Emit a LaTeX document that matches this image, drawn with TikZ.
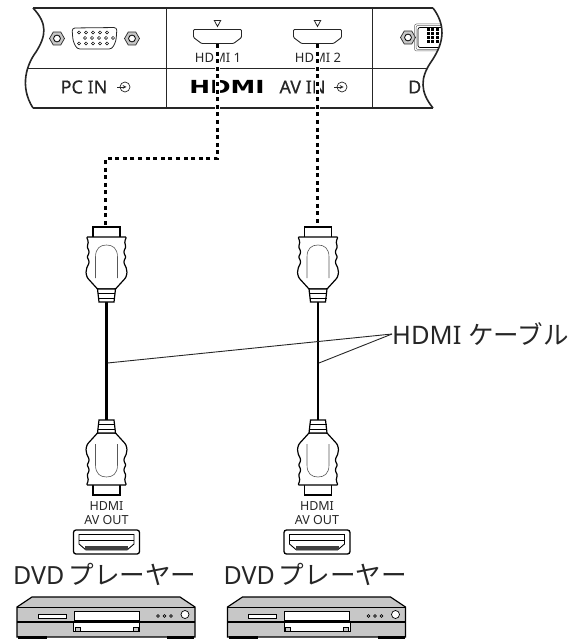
\documentclass[tikz,border=0pt]{standalone}
\usepackage{fontspec}
\setmainfont{Noto Sans}
\newfontfamily\cjk{Noto Sans CJK JP}
\newfontfamily\logofont{DejaVu Sans}
\newfontfamily\panelfont[FakeBold=0.5]{Noto Sans}
\usetikzlibrary{calc,shapes.geometric}

\newcommand{\fsize}[1]{\fontsize{#1}{#1}\selectfont}

\definecolor{playergray}{gray}{0.78}
\definecolor{linkgray}{gray}{0.15}

\tikzset{
    panelline/.style={line width=1.6pt, linkgray},
    thinline/.style={line width=0.7pt, linkgray},
    dashedcable/.style={line width=2.2pt, black, dash pattern=on 4pt off 3.6pt},
    cablehalo/.style={line width=5pt, white},
    leader/.style={line width=0.9pt, linkgray},
    labeltext/.style={inner sep=0pt, linkgray},
    screw/.pic={
        \node[regular polygon, regular polygon sides=6, draw=linkgray, fill=gray!45, line width=0.7pt,
              minimum size=15pt, inner sep=0pt] {};
        \draw[fill=white, line width=0.8pt] (0,0) circle (3.4);
    },
    hdmiport/.pic={
        \draw[thinline, line width=0.9pt, rounded corners=1pt] (-24,-7) -- (24,-7) -- (24,1) -- (16,7) -- (-16,7) -- (-24,1) -- cycle;
        \draw[thinline, line width=0.8pt, fill=white] (-3.2,-16) -- (3.2,-16) -- (0,-10) -- cycle;
    },
    enter/.pic={
        \draw[thinline] (0,0) circle (5);
        \draw[thinline, ->, >=stealth] (-8,0) -- (1.5,0);
    },
    hdmiplug/.pic={
        % tip
        \draw[line width=1.1pt] (-13.5,10) -- (-13.5,0) -- (13.5,0) -- (13.5,10);
        % body
        \draw[line width=1.2pt, fill=white, rounded corners=1pt] (-9,62) -- (-19,51)
            .. controls (-21,46) and (-20.5,44) .. (-19.5,40)
            .. controls (-17,36) and (-17,34) .. (-19.5,30)
            .. controls (-17,26) and (-17,24) .. (-19.5,20)
            .. controls (-18,17) and (-18,14) .. (-20,10)
            -- (20,10)
            .. controls (18,14) and (18,17) .. (19.5,20)
            .. controls (17,24) and (17,26) .. (19.5,30)
            .. controls (17,34) and (17,36) .. (19.5,40)
            .. controls (20.5,44) and (21,46) .. (19,51)
            -- (9,62) -- cycle;
        % inner arch
        \draw[line width=0.6pt, gray!70!black] (-11,51) -- (-11,30) .. controls (-11,21) and (-6,18) .. (0,18)
            .. controls (6,18) and (11,21) .. (11,30) -- (11,51);
        % neck
        \draw[line width=1.2pt, fill=white] (-9,62) -- (-7.5,75) -- (7.5,75) -- (9,62) -- cycle;
        \foreach \ry in {66,71} {
            \draw[line width=0.8pt] (-8.5,\ry) -- (8.5,\ry);
        }
    },
    dvdplayer/.pic={
        \draw[line width=1.2pt, fill=playergray] (17,607) -- (32,597) -- (180,597) -- (195,607) -- (195,637) -- (17,637) -- cycle;
        \draw[line width=0.8pt] (17,607.5) -- (195,607.5);
        \draw[line width=1.1pt] (17,622) -- (195,622);
        % feet
        \draw[line width=2.4pt] (18,637.5) -- (47,637.5);
        \draw[line width=2.4pt] (167,637.5) -- (194,637.5);
        % tray and door
        \draw[line width=0.8pt, fill=white] (38,614.5) rectangle (66,618.5);
        \draw[line width=0.7pt, fill=white] (74,611.5) rectangle (139,620);
        \draw[line width=0.7pt, fill=white] (73.5,622.5) rectangle (139.5,631);
        \draw[line width=0.6pt, fill=playergray] (75,627.5) rectangle (80,631);
        \draw[line width=0.6pt, fill=playergray] (133,627.5) rectangle (138,631);
        % buttons
        \foreach \bx in {158,164.5,171} {
            \draw[line width=0.6pt, fill=white] (\bx,616) circle (1.4);
        }
        \draw[line width=0.7pt, fill=white] (185,614.5) circle (4);
    }
}

\begin{document}
\begin{tikzpicture}[x=1pt, y=-1pt]
    \useasboundingbox (0,0) rectangle (569,639);

    % --- Panel ---
    \begin{scope}
        \clip (33,8) .. controls (48,24) and (46,36) .. (36,52) .. controls (27,64) and (19,86) .. (33,108)
            -- (433,108) .. controls (420,92) and (420,78) .. (431,62) .. controls (442,46) and (448,28) .. (433,8) -- cycle;

        \draw[thinline] (25,68) -- (440,68);
        \draw[thinline] (166,8) -- (166,108);
        \draw[thinline] (372.5,8) -- (372.5,108);

        % PC IN
        \pic at (57,38.5) {screw};
        \pic at (132,38.5) {screw};
        \draw[thinline, line width=0.8pt, rounded corners=3pt] (72,28) -- (117,27.5) -- (116,41) -- (112,49) -- (77,49) -- (73,41) -- cycle;
        \foreach \px in {79,86,93,100,107} {
            \draw[line width=0.5pt] (\px,32.5) circle (1.6);
            \draw[line width=0.5pt] (\px,43.5) circle (1.6);
        }
        \foreach \px in {85,92,99,106,113} {
            \draw[line width=0.5pt] (\px,38) circle (1.6);
        }
        \node[labeltext, font=\panelfont\fsize{18}] (pcin) at (84,87) {PC IN};
        \pic at (125,87) {enter};

        % HDMI ports
        \pic at (217.5,36.5) {hdmiport};
        \pic at (317.5,36.5) {hdmiport};
        \node[labeltext, font=\fsize{13}] (hdmione) at (218,57.5) {HDMI 1};
        \node[labeltext, font=\fsize{13}] (hdmitwo) at (318,57.5) {HDMI 2};
        \node[labeltext, font=\logofont\fsize{18}\bfseries, xscale=1.38, black] (hdmilogo) at (227,87) {HDMI};
        \node[labeltext, font=\panelfont\fsize{18}] (avin) at (302.5,87) {AV IN};
        \pic at (342,87) {enter};

        % DVI
        \pic at (408,37.5) {screw};
        \draw[line width=0.5pt, gray!80!black, rounded corners=2pt] (414.5,24) rectangle (450,51);
        \draw[line width=0.5pt, gray!80!black, rounded corners=2pt] (416,25.5) rectangle (450,49.5);
        \draw[line width=0.7pt, rounded corners=2pt] (418,27.5) rectangle (450,47.5);
        \foreach \gx in {428,432.5,437} {
            \foreach \gy in {30,34,38,42} {
                \fill[black] (\gx-1.5,\gy-1.5) rectangle (\gx+1.5,\gy+1.5);
            }
        }
        \node[labeltext, font=\panelfont\fsize{18}, anchor=west] (dvi) at (408,87) {D};
    \end{scope}

    % panel outline
    \draw[panelline] (33,8) -- (433,8);
    \draw[panelline] (33,108) -- (433,108);
    \draw[panelline] (33,8) .. controls (48,24) and (46,36) .. (36,52) .. controls (27,64) and (19,86) .. (33,108);
    \draw[panelline] (433,8) .. controls (448,28) and (442,46) .. (431,62) .. controls (420,78) and (420,92) .. (433,108);

    % --- Cables ---
    \draw[cablehalo] (217.5,44) -- (217.5,112);
    \draw[cablehalo] (317.5,44) -- (317.5,112);
    \draw[dashedcable] (217.5,44) -- (217.5,158.5) -- (105.5,158.5) -- (105.5,226);
    \draw[dashedcable] (317.5,44) -- (317.5,226);
    \foreach \cx in {106.5,318} {
        \draw[line width=2.4pt] (\cx,300) -- (\cx,420);
        \pic at (\cx,227) {hdmiplug};
        \pic[yscale=-1] at (\cx,495) {hdmiplug};
    }

    % --- HDMI AV OUT + DVD ---
    \foreach \dx/\lbl in {0/outa,210.5/outb} {
        \node[labeltext, font=\fsize{12.5}, align=center] (\lbl) at (106.5+\dx,513.5) {HDMI\\[1.5pt]AV OUT};
        \draw[line width=1.3pt, rounded corners=2.5pt] (73.5+\dx,530) rectangle (139.5+\dx,554);
        \draw[line width=0.9pt] (79+\dx,534.5) -- (134+\dx,534.5) -- (134+\dx,544) -- (127+\dx,550) -- (86+\dx,550) -- (79+\dx,544) -- cycle;
        \draw[line width=0.7pt] (79+\dx,540.5) -- (134+\dx,540.5);
        \fill[black!75] (85+\dx,546) rectangle (128+\dx,550);
        \node[labeltext, font=\fsize{25}, anchor=west] (dvd\lbl) at (13+\dx,574.5) {DVD\hspace{4pt}{\cjk\fsize{25.6}プレーヤー}};
        \pic at (\dx,0) {dvdplayer};
    }

    % --- Label ---
    \node[labeltext, font=\fsize{25.5}, anchor=west] (cablelabel) at (392,334) {HDMI {\cjk ケーブル}};
    \coordinate (cablea) at (107.5,363);
    \coordinate (cableb) at (319,363);
    \draw[leader] (cablelabel.west) -- (cablea);
    \draw[leader] (cablelabel.west) -- (cableb);

\end{tikzpicture}
\end{document}
